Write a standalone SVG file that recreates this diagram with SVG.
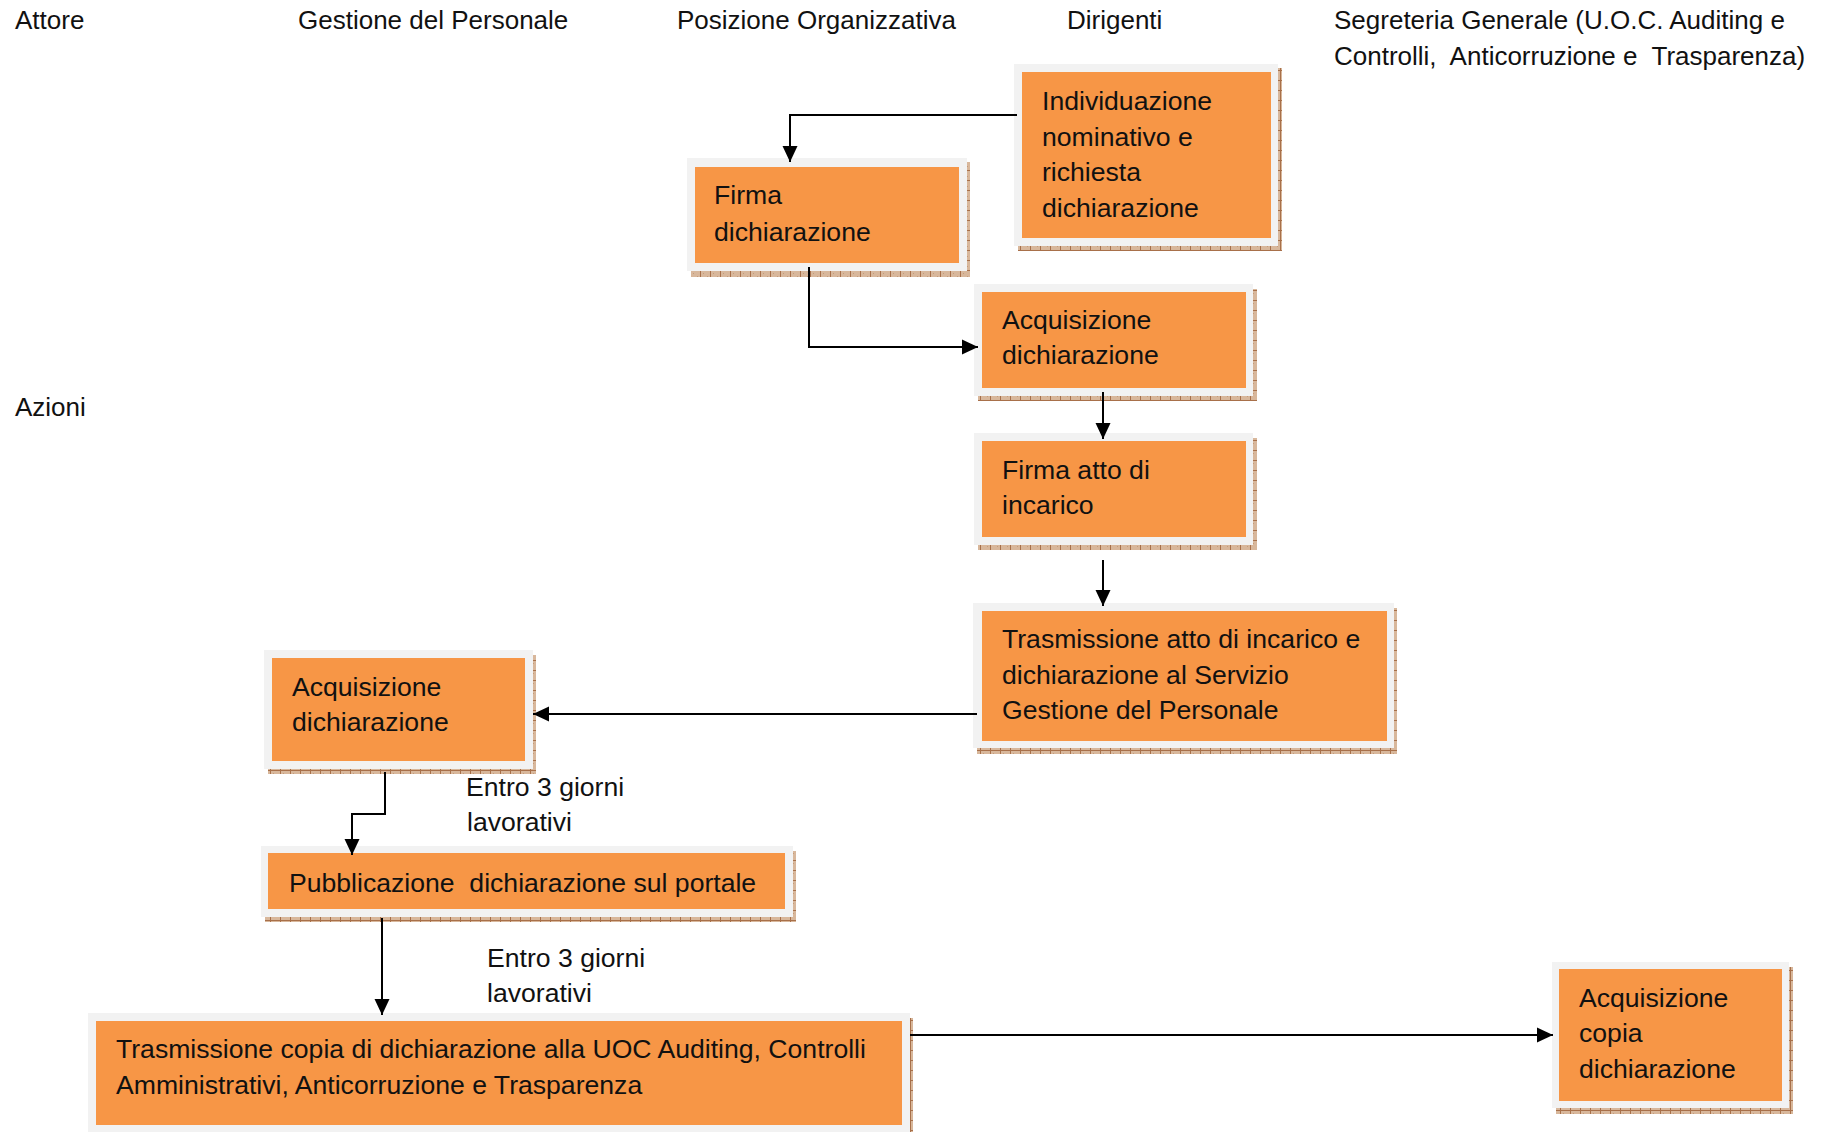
<svg xmlns="http://www.w3.org/2000/svg" width="1827" height="1132" viewBox="0 0 1827 1132">
  <defs>
    <pattern id="shadowPat" patternUnits="userSpaceOnUse" width="10" height="10">
      <rect width="10" height="10" fill="#d8b79b"/>
      <rect x="3" y="3" width="1" height="1" fill="#c49a78"/>
      <rect x="7" y="6" width="1" height="1" fill="#c49a78"/>
      <line x1="0.5" y1="0" x2="0.5" y2="10" stroke="#a8704a" stroke-width="1"/>
      <line x1="0" y1="0.5" x2="10" y2="0.5" stroke="#a8704a" stroke-width="1"/>
    </pattern>
    <marker id="arrow" markerUnits="userSpaceOnUse" markerWidth="17" markerHeight="17" viewBox="0 0 17 17" refX="16" refY="8.5" orient="auto">
      <path d="M0,1 L16,8.5 L0,16 Z" fill="#000"/>
    </marker>
  </defs>
  <style>
    .shadow { fill: url(#shadowPat); }
    .frame { fill: #f2f2f2; }
    .box { fill: #f79646; }
    text { font-family: "Liberation Sans", Arial, sans-serif; font-size: 26.6px; fill: #111; white-space: pre; }
    .hdr { font-size: 26px; }
    .conn { fill: none; stroke: #000; stroke-width: 2; marker-end: url(#arrow); }
  </style>
  <rect width="1827" height="1132" fill="#fff"/>

  <!-- column headers -->
  <g id="headers">
    <text class="hdr" x="15" y="28.5">Attore</text>
    <text class="hdr" x="298" y="28.5">Gestione del Personale</text>
    <text class="hdr" x="677" y="28.5">Posizione Organizzativa</text>
    <text class="hdr" x="1067" y="28.5">Dirigenti</text>
    <text class="hdr" x="1334" y="28.5">Segreteria Generale (U.O.C. Auditing e</text>
    <text class="hdr" x="1334" y="64.5">Controlli,  Anticorruzione e  Trasparenza)</text>
    <text class="hdr" x="15" y="416">Azioni</text>
  </g>

  <!-- connector labels -->
  <g id="labels">
    <text x="466" y="796">Entro 3 giorni</text>
    <text x="467" y="831">lavorativi</text>
    <text x="487" y="967">Entro 3 giorni</text>
    <text x="487" y="1002">lavorativi</text>
  </g>

  <!-- Dirigenti -->
  <g id="individuazione">
    <rect class="shadow" x="1018" y="68" width="264" height="183"/>
    <rect class="frame" x="1014" y="64" width="264" height="182"/>
    <rect class="box" x="1022" y="72" width="249" height="166"/>
    <text x="1042" y="110">Individuazione</text>
    <text x="1042" y="146">nominativo e</text>
    <text x="1042" y="181">richiesta</text>
    <text x="1042" y="217">dichiarazione</text>
  </g>

  <!-- Posizione Organizzativa -->
  <g id="firma-dichiarazione">
    <rect class="shadow" x="691" y="162" width="279" height="115"/>
    <rect class="frame" x="687" y="158" width="280" height="113"/>
    <rect class="box" x="695" y="167" width="264" height="96"/>
    <text x="714" y="204">Firma</text>
    <text x="714" y="241">dichiarazione</text>
  </g>

  <g id="acquisizione-dirigenti">
    <rect class="shadow" x="978" y="289" width="279" height="112"/>
    <rect class="frame" x="974" y="284" width="279" height="112"/>
    <rect class="box" x="982" y="292" width="264" height="96"/>
    <text x="1002" y="329">Acquisizione</text>
    <text x="1002" y="364">dichiarazione</text>
  </g>

  <g id="firma-atto">
    <rect class="shadow" x="978" y="438" width="279" height="112"/>
    <rect class="frame" x="974" y="433" width="279" height="112"/>
    <rect class="box" x="982" y="441" width="264" height="96"/>
    <text x="1002" y="479">Firma atto di</text>
    <text x="1002" y="514">incarico</text>
  </g>

  <g id="trasmissione-atto">
    <rect class="shadow" x="977" y="608" width="420" height="146"/>
    <rect class="frame" x="973" y="603" width="421" height="145"/>
    <rect class="box" x="982" y="611" width="405" height="130"/>
    <text x="1002" y="648">Trasmissione atto di incarico e</text>
    <text x="1002" y="684">dichiarazione al Servizio</text>
    <text x="1002" y="719">Gestione del Personale</text>
  </g>

  <!-- Gestione del Personale -->
  <g id="acquisizione-personale">
    <rect class="shadow" x="268" y="655" width="268" height="119"/>
    <rect class="frame" x="264" y="650" width="269" height="119"/>
    <rect class="box" x="272" y="658" width="253" height="103"/>
    <text x="292" y="696">Acquisizione</text>
    <text x="292" y="731">dichiarazione</text>
  </g>

  <g id="pubblicazione">
    <rect class="shadow" x="265" y="851" width="531" height="71"/>
    <rect class="frame" x="261" y="846" width="532" height="71"/>
    <rect class="box" x="268" y="853" width="517" height="56"/>
    <text x="289" y="892">Pubblicazione  dichiarazione sul portale</text>
  </g>

  <g id="trasmissione-copia">
    <rect class="shadow" x="92" y="1018" width="821" height="120"/>
    <rect class="frame" x="88" y="1013" width="822" height="119"/>
    <rect class="box" x="96" y="1021" width="806" height="104"/>
    <text x="116" y="1058">Trasmissione copia di dichiarazione alla UOC Auditing, Controlli</text>
    <text x="116" y="1094">Amministrativi, Anticorruzione e Trasparenza</text>
  </g>

  <!-- Segreteria Generale -->
  <g id="acquisizione-copia">
    <rect class="shadow" x="1556" y="967" width="237" height="147"/>
    <rect class="frame" x="1552" y="962" width="237" height="146"/>
    <rect class="box" x="1559" y="969" width="223" height="132"/>
    <text x="1579" y="1007">Acquisizione</text>
    <text x="1579" y="1042">copia</text>
    <text x="1579" y="1078">dichiarazione</text>
  </g>

  <!-- connectors, drawn over the boxes so the arrowheads stay visible -->
  <g id="connectors">
    <path class="conn" d="M1017,115 H790 V162"/>
    <path class="conn" d="M809,267 V347 H978"/>
    <path class="conn" d="M1103,392 V439"/>
    <path class="conn" d="M1103,560 V606"/>
    <path class="conn" d="M977,714 H533"/>
    <path class="conn" d="M385,772 V814 H352 V855"/>
    <path class="conn" d="M382,918 V1015"/>
    <path class="conn" d="M910,1035 H1553"/>
  </g>
</svg>
